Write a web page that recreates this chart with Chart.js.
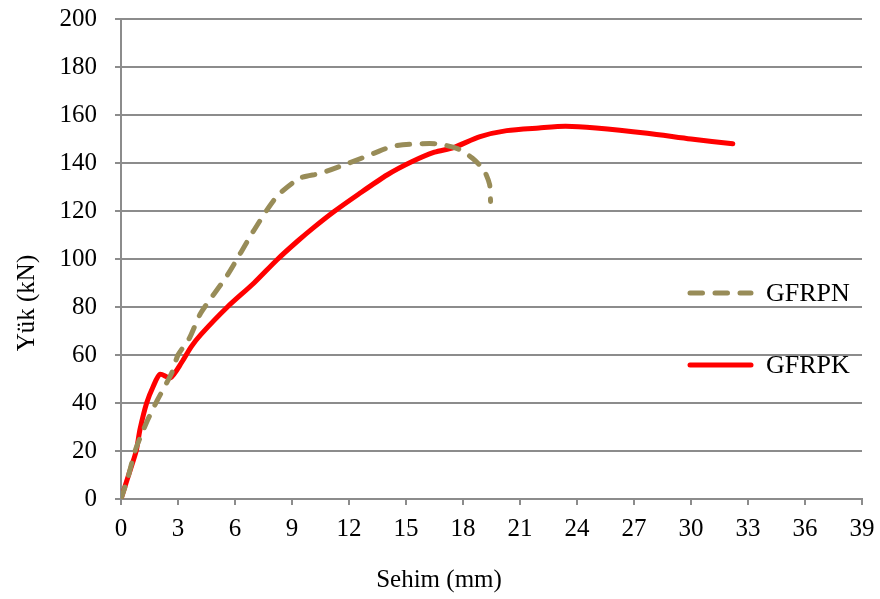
<!DOCTYPE html>
<html>
<head>
<meta charset="utf-8">
<script src="https://cdn.jsdelivr.net/npm/chart.js@4"></script>
<style>
  html, body { margin: 0; padding: 0; background: #fff; }
  #wrap { width: 880px; height: 599px; }
</style>
</head>
<body>
<div id="wrap"><canvas id="chartYuk"></canvas></div>
<script>
// Veriler (Sehim mm, Yük kN)
const gfrpnSehim = [0, 0.37, 0.74, 1.35, 1.9, 2.67, 3.0, 3.6, 4.2, 5.6, 7.0, 8.2, 9.4, 10.5, 12.0, 13.3, 14.3, 15.2, 16.6, 17.7, 18.5, 19.1, 19.4, 19.45];
const gfrpnYuk   = [0, 9, 20, 32, 41, 52.5, 60, 67, 77.5, 93.3, 112, 126, 133.6, 135.7, 140, 144, 147, 147.8, 148, 146, 142, 137, 131, 124];

const gfrpkSehim = [0, 0.4, 0.8, 1.0, 1.35, 1.7, 2.05, 2.6, 3.2, 3.7, 4.2, 5.6, 7.0, 8.2, 9.3, 10.2, 11.2, 12.5, 14.0, 15.3, 16.5, 17.5, 18.9, 20.3, 22.0, 23.4, 25.0, 27.7, 30.0, 32.2];
const gfrpkYuk   = [0, 10, 20, 29, 40, 47, 52, 50.5, 57, 63.5, 68.5, 80, 90, 99.6, 107.5, 113.5, 119.7, 127, 135, 140.5, 144.5, 146.4, 151, 153.5, 154.6, 155.3, 154.6, 152.4, 150, 148];

const xTicks = [0, 3, 6, 9, 12, 15, 18, 21, 24, 27, 30, 33, 36, 39];
const yTicks = [0, 20, 40, 60, 80, 100, 120, 140, 160, 180, 200];

const xTitle = 'Sehim (mm)';
const yTitle = 'Yük (kN)';

const toPoints = (xs, ys) => xs.map((x, i) => ({ x: x, y: ys[i] }));

const serif = "'Liberation Serif', 'Times New Roman', serif";

// leyenda y titulos de ejes
const extras = {
	id: 'extras',
	afterDraw(chart) {
		const ctx = chart.ctx;
		const rows = [293, 365];
		chart.data.datasets.forEach((ds, i) => {
			const y = rows[i];
			ctx.save();
			ctx.strokeStyle = ds.borderColor;
			ctx.lineWidth = ds.borderWidth;
			ctx.lineCap = 'round';
			ctx.setLineDash(ds.borderDash || []);
			ctx.beginPath();
			ctx.moveTo(690, y);
			ctx.lineTo(751, y);
			ctx.stroke();
			ctx.setLineDash([]);
			ctx.fillStyle = '#000';
			ctx.font = "26px " + serif;
			ctx.textBaseline = 'middle';
			ctx.fillText(ds.label, 766, y + 1);
			ctx.restore();
		});

		ctx.save();
		ctx.fillStyle = '#000';
		ctx.font = "25px " + serif;
		ctx.textAlign = 'center';
		ctx.textBaseline = 'middle';
		ctx.fillText(xTitle, 439, 580);
		ctx.translate(27, 303);
		ctx.rotate(-Math.PI / 2);
		ctx.fillText(yTitle, 0, 0);
		ctx.restore();
	}
};

const chartYuk = new Chart(
	document.getElementById('chartYuk'),
	{
		type: 'line',
		data: {
			datasets: [{
				label: 'GFRPN',
				data: toPoints(gfrpnSehim, gfrpnYuk),
				borderColor: 'rgb(152,140,88)',
				borderWidth: 5,
				borderDash: [12.5, 12.5],
				borderCapStyle: 'round',
				pointRadius: 0,
				tension: 0.25,
				fill: false
			}, {
				label: 'GFRPK',
				data: toPoints(gfrpkSehim, gfrpkYuk),
				borderColor: 'rgb(255,0,0)',
				borderWidth: 5,
				borderCapStyle: 'round',
				pointRadius: 0,
				tension: 0.25,
				fill: false
			}]
		},
		options: {
			responsive: true,
			maintainAspectRatio: false,
			animation: false,
			layout: { padding: { top: 19, right: 18, left: 0, bottom: 0 } },
			plugins: {
				legend: { display: false },
				tooltip: { enabled: false }
			},
			scales: {
				x: {
					type: 'linear',
					min: 0,
					max: 39,
					afterBuildTicks: (scale) => { scale.ticks = xTicks.map(v => ({ value: v })); },
					afterFit: (scale) => {
						scale.height = 100;
						scale.paddingLeft = 0;
						scale.paddingRight = 0;
					},
					grid: { drawOnChartArea: false, drawTicks: true, tickLength: 6, color: '#8c8c8c', lineWidth: 2 },
					border: { display: true, color: '#8c8c8c', width: 2 },
					ticks: { color: '#000', font: { family: serif, size: 25 }, padding: 9, maxRotation: 0 }
				},
				y: {
					type: 'linear',
					min: 0,
					max: 200,
					afterBuildTicks: (scale) => { scale.ticks = yTicks.map(v => ({ value: v })); },
					afterFit: (scale) => {
						scale.width = 121;
						scale.paddingTop = 0;
						scale.paddingBottom = 0;
					},
					grid: { drawOnChartArea: true, drawTicks: true, tickLength: 6, color: '#8c8c8c', lineWidth: 2 },
					border: { display: true, color: '#8c8c8c', width: 2 },
					ticks: { color: '#000', font: { family: serif, size: 25 }, padding: 18 }
				}
			}
		},
		plugins: [extras]
	}
);
</script>
</body>
</html>
